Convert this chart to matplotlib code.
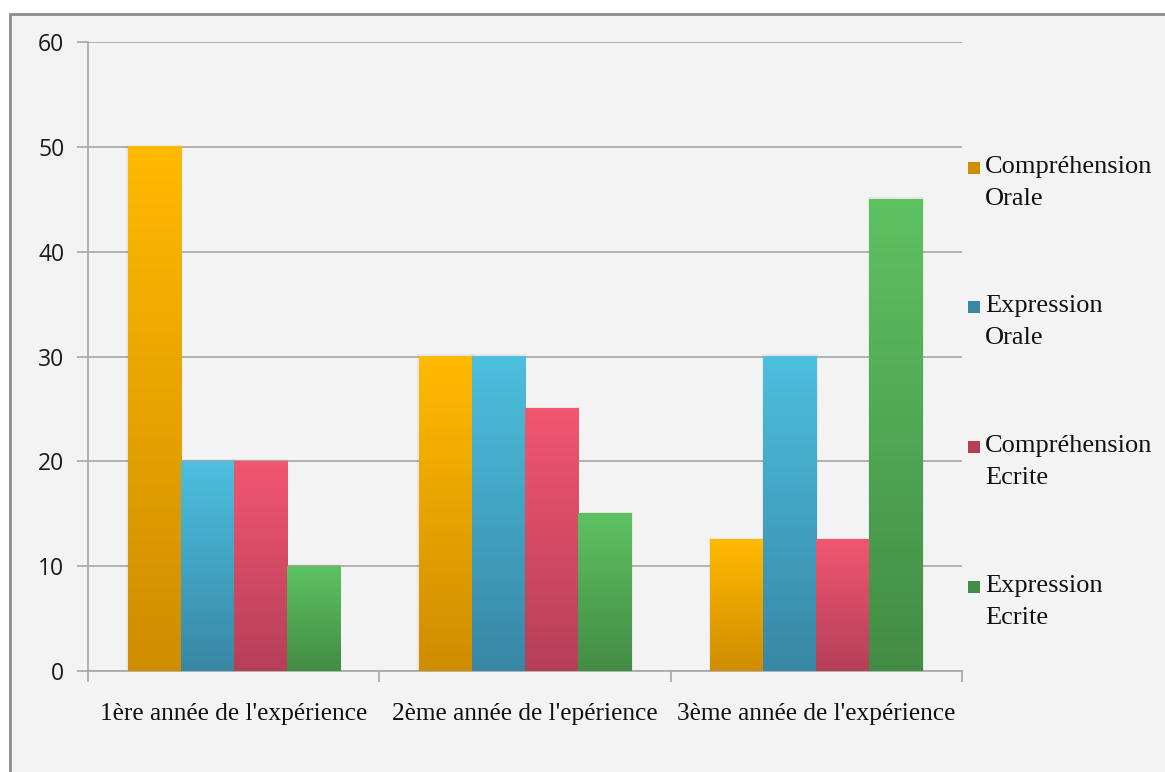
import numpy as np
import matplotlib.pyplot as plt
from matplotlib.colors import LinearSegmentedColormap
from matplotlib.patches import Rectangle

# ============================================================
# DATA
# ============================================================
categories = ["1ère année de l'expérience",
              "2ème année de l'epérience",
              "3ème année de l'expérience"]
series_names = ["Compréhension\nOrale", "Expression\nOrale",
                "Compréhension\nEcrite", "Expression\nEcrite"]
comp_orale = [50, 30, 12.5]
expr_orale = [20, 30, 30]
comp_ecrite = [20, 25, 12.5]
expr_ecrite = [10, 15, 45]
y_ticks = [0, 10, 20, 30, 40, 50, 60]

# (top colour, bottom colour) for each series
gradients = [("#FFBA00", "#CF8D00"),
             ("#4DBFDF", "#3887A5"),
             ("#F25670", "#B63F58"),
             ("#5EC261", "#438C45")]

BG = "#F3F3F3"
GRID = "#A6A6A6"

# ============================================================
# FIGURE
# ============================================================
fig = plt.figure(figsize=(11.65, 7.72), dpi=100, facecolor="white")
frame = Rectangle((10 / 1165, -0.05), 1.2, 1 - 14 / 772 + 0.05,
                  transform=fig.transFigure, facecolor=BG,
                  edgecolor="#8C8C8C", linewidth=2, zorder=-10)
fig.patches.append(frame)

ax = fig.add_axes([88 / 1165, 1 - 671 / 772, (962 - 88) / 1165, (671 - 42) / 772])
ax.set_zorder(5)
ax.patch.set_alpha(0)

n_cat = len(categories)
x = np.arange(n_cat)
bar_w = 0.728 / 4
all_series = [comp_orale, expr_orale, comp_ecrite, expr_ecrite]

for i, vals in enumerate(all_series):
    offs = (i - 1.5) * bar_w
    bars = ax.bar(x + offs, vals, width=bar_w, facecolor="none",
                  edgecolor="none", zorder=3)
    cmap = LinearSegmentedColormap.from_list(f"g{i}", [gradients[i][1], gradients[i][0]])
    grad = np.linspace(0, 1, 256).reshape(-1, 1)
    for p in bars.patches:
        x0, y0, w, h = p.get_x(), p.get_y(), p.get_width(), p.get_height()
        # soft shadow
        ax.add_patch(Rectangle((x0 - 0.005, y0), w + 0.01, h + 0.2,
                               facecolor="#000000", alpha=0.05,
                               edgecolor="none", zorder=2))
        ax.imshow(grad, extent=[x0, x0 + w, y0, y0 + h], origin="lower",
                  cmap=cmap, aspect="auto", zorder=3)

ax.set_xlim(-0.5, n_cat - 0.5)
ax.set_ylim(0, 60)

ax.set_yticks(y_ticks)
ax.set_yticklabels([str(t) for t in y_ticks], fontsize=16.5,
                   family=["Open Sans", "DejaVu Sans"], color="#1A1A1A")
ax.yaxis.grid(True, color=GRID, linewidth=1.2, zorder=1)
ax.set_axisbelow(True)

# x ticks sit on category boundaries, labels in the middle
ax.set_xticks(np.arange(-0.5, n_cat, 1.0))
ax.set_xticklabels([])
ax.set_xticks(x, minor=True)
ax.set_xticklabels(categories, minor=True, fontsize=18.3,
                   family=["Liberation Serif", "DejaVu Serif"], color="#111111")
ax.tick_params(axis="x", which="minor", length=0, pad=23)
ax.tick_params(axis="x", which="major", length=8, width=1.2, color=GRID)
ax.tick_params(axis="y", length=8, width=1.2, color=GRID, pad=9)

for side in ["top", "right"]:
    ax.spines[side].set_visible(False)
ax.spines["left"].set_color(GRID)
ax.spines["left"].set_linewidth(1.2)
ax.spines["bottom"].set_color(GRID)
ax.spines["bottom"].set_linewidth(1.2)

# ============================================================
# LEGEND
# ============================================================
legend_y = [183, 322, 462, 602]
for i, name in enumerate(series_names):
    yy = 1 - legend_y[i] / 772
    fig.patches.append(Rectangle((968 / 1165, yy + 9 / 772), 12 / 1165, 12 / 772,
                                 transform=fig.transFigure,
                                 facecolor=gradients[i][1], edgecolor="none"))
    fig.text(985 / 1165, yy, name, fontsize=19, va="center", ha="left",
             family=["Liberation Serif", "DejaVu Serif"], color="#111111",
             linespacing=1.55)

plt.savefig("out.png", dpi=100, facecolor="white")
